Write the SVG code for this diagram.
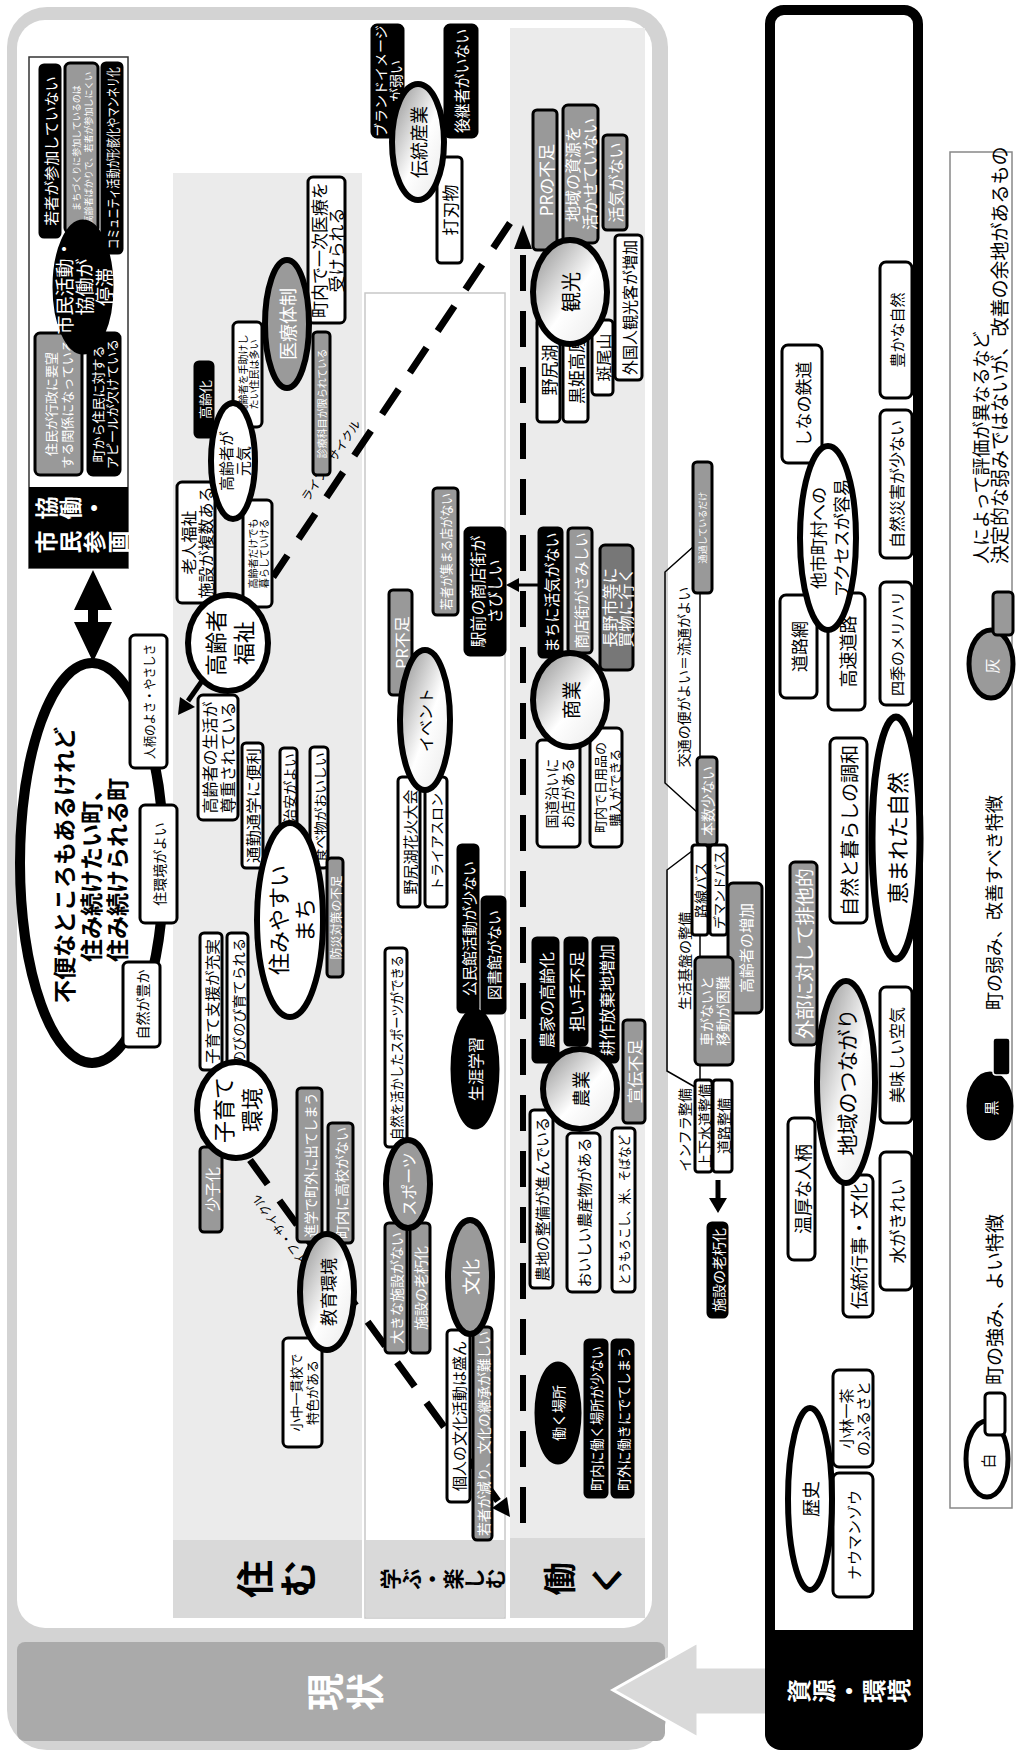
<svg xmlns="http://www.w3.org/2000/svg" width="1020" height="1751" viewBox="0 0 1020 1751">
<defs>
<linearGradient id="gr" x1="1" y1="0" x2="0" y2="1">
<stop offset="0" stop-color="#8a8a8a"/><stop offset="0.55" stop-color="#fff"/><stop offset="1" stop-color="#e8e8e8"/>
</linearGradient>
<style>
text{font-family:"Noto Sans CJK JP","Noto Sans",sans-serif;text-anchor:middle;dominant-baseline:central;fill:#000}
.w{fill:#fff;stroke:#000;stroke-width:3}
.g{fill:#999;stroke:#000;stroke-width:3}
.gd{fill:#777;stroke:#000;stroke-width:3}
.k{fill:#000;stroke:#000;stroke-width:3}
.tw{fill:#fff}
.b{font-weight:bold}
.ew{fill:#fff;stroke:#000;stroke-width:6}
.eg{fill:url(#gr);stroke:#000;stroke-width:6}
.eh{fill:#9a9a9a;stroke:#000;stroke-width:6}
.ek{fill:#000;stroke:#000;stroke-width:3}
.dash{fill:none;stroke:#000;stroke-width:7;stroke-dasharray:30 20}
.thin{fill:none;stroke:#000;stroke-width:1.5}
.st{text-anchor:start}
</style>
</defs>
<rect width="1020" height="1751" fill="#fff"/>
<g transform="translate(0,1751) rotate(-90)">
<g id="frame">
<rect x="1" y="7" width="1743" height="661" rx="40" fill="#d3d3d3"/>
<rect x="123" y="17" width="1608" height="635" rx="28" fill="#fff"/>
<rect x="10" y="17" width="99" height="648" rx="8" fill="#aaa"/>
<text x="59" y="322" font-size="38" class="b tw">現</text>
<text x="59" y="362" font-size="38" class="b tw">状</text>
</g>
<g id="arrow-main"><polygon points="61,613 109,698 84,698 84,768 36,768 36,698 13,698" fill="#d9d9d9" stroke="#fff" stroke-width="3"/></g>
<g id="panel-sumu">
<rect x="133" y="173" width="1445" height="189" fill="#ebebeb"/>
<rect x="133" y="173" width="78" height="189" fill="#d9d9d9"/>
<text x="172" y="252" font-size="38" class="b">住</text>
<text x="172" y="295" font-size="38" class="b">む</text>
</g>
<g id="panel-manabu">
<rect x="133" y="365" width="1325" height="140" fill="#fff" stroke="#c8c8c8" stroke-width="1.5"/>
<rect x="134" y="366" width="77" height="138" fill="#d9d9d9"/>
<text x="172" y="389" font-size="21" class="b">学</text>
<text x="172" y="410" font-size="21" class="b">ぶ</text>
<text x="172" y="431" font-size="21" class="b">・</text>
<text x="172" y="452" font-size="21" class="b">楽</text>
<text x="172" y="473" font-size="21" class="b">し</text>
<text x="172" y="494" font-size="21" class="b">む</text>
</g>
<g id="panel-hataraku">
<rect x="133" y="510" width="1590" height="135" fill="#ebebeb"/>
<rect x="133" y="510" width="80" height="135" fill="#d9d9d9"/>
<text x="172" y="558" font-size="33" class="b">働</text>
<text x="172" y="605" font-size="33" class="b">く</text>
</g>
<g id="panel-shigen">
<rect x="6" y="770" width="1735" height="148" rx="14" fill="#fff" stroke="#000" stroke-width="10"/>
<rect x="1" y="765" width="120" height="158" rx="16" fill="#000"/>
<rect x="60" y="765" width="61" height="158" fill="#000"/>
<text x="60" y="797" font-size="24" class="b tw">資</text>
<text x="60" y="822" font-size="24" class="b tw">源</text>
<text x="60" y="847" font-size="24" class="b tw">・</text>
<text x="60" y="872" font-size="24" class="b tw">環</text>
<text x="60" y="897" font-size="24" class="b tw">境</text>
</g>
<g id="legend">
<rect x="243" y="950" width="1356" height="62" fill="#fff" stroke="#888" stroke-width="1.5"/>
<ellipse cx="292" cy="987" rx="38" ry="21" fill="#fff" stroke="#000" stroke-width="5"/>
<rect x="316" y="985" width="42" height="20" rx="4" class="w"/>
<text x="290" y="987" font-size="15">白</text>
<text x="366" y="993" font-size="19" class="st">町の強み、よい特徴</text>
<ellipse cx="645" cy="990" rx="33" ry="22" class="ek"/>
<rect x="676" y="993" width="37" height="17" rx="3" fill="#000" stroke="#fff" stroke-width="1.5"/>
<text x="643" y="990" font-size="15" class="tw">黒</text>
<text x="741" y="993" font-size="18" class="st">町の弱み、改善すべき特徴</text>
<ellipse cx="1087" cy="991" rx="34" ry="22" fill="#9a9a9a" stroke="#000" stroke-width="5"/>
<rect x="1116" y="993" width="43" height="20" rx="4" fill="#999" stroke="#000" stroke-width="3"/>
<text x="1085" y="991" font-size="15" class="tw">灰</text>
<text x="1187" y="980" font-size="18" class="st">人によって評価が異なるなど</text>
<text x="1187" y="998" font-size="19" class="st">決定的な弱みではないが、改善の余地があるもの</text>
</g>
<g id="connectors">
<polyline class="dash" points="1528,510 1174,273"/>
<polyline class="dash" points="591,250 250,498"/>
<polygon points="234,510 254,507 243,492"/>
<polyline class="dash" style="stroke-width:6;stroke-dasharray:36 20" points="228,523 1505,523"/>
<polygon points="1526,523 1502,514 1502,532"/>
<text x="1291" y="330" font-size="12" transform="rotate(34 1291 330)">ライフ・サイクル</text>
<text x="516" y="282" font-size="12" transform="rotate(-36 516 282)">ライフ・サイクル</text>
<polygon points="1089,93 1129,74 1129,88 1141,88 1141,74 1181,93 1141,112 1141,98 1129,98 1129,112"/>
<line x1="1070" y1="202" x2="1050" y2="188" stroke="#000" stroke-width="5"/>
<polygon points="1036,178 1054,180 1044,195"/>
<line x1="1166" y1="540" x2="1166" y2="516" stroke="#000" stroke-width="3"/>
<polygon points="1166,506 1159,519 1173,519"/>
<line x1="571" y1="718" x2="552" y2="718" stroke="#000" stroke-width="5"/>
<polygon points="538,718 553,709 553,727"/>
<line x1="994" y1="700" x2="1158" y2="700" class="thin"/>
<line x1="794" y1="700" x2="816" y2="700" class="thin"/>
<line x1="671" y1="700" x2="686" y2="700" class="thin"/>
<polyline class="thin" points="1204,693 1179,665 968,665 939,697"/>
<polyline class="thin" points="900,692 881,667 680,667 664,695"/>
</g>
<g id="infra-labels">
<text x="1074" y="683" font-size="14">交通の便がよい＝流通がよい</text>
<text x="790" y="684" font-size="14">生活基盤の整備</text>
<text x="621" y="684" font-size="14">インフラ整備</text>
</g>
<g id="n-kyodo">
<rect x="1183" y="29" width="511" height="99" fill="#fff" stroke="#333" stroke-width="1.5"/>
<rect x="1183" y="29" width="81" height="99" fill="#000"/>
<text x="1243" y="45" font-size="23" class="b tw">協</text>
<text x="1243" y="69" font-size="23" class="b tw">働</text>
<text x="1243" y="93" font-size="23" class="b tw">・</text>
<text x="1209" y="45" font-size="23" class="b tw">市</text>
<text x="1209" y="69" font-size="23" class="b tw">民</text>
<text x="1209" y="93" font-size="23" class="b tw">参</text>
<text x="1209" y="117" font-size="23" class="b tw">画</text>
</g>
<g id="n01"><rect class="k" x="1514" y="40" width="172" height="20" rx="4"/><text x="1600" y="50" font-size="15" class="tw">若者が参加していない</text></g>
<g id="n02"><rect class="g" x="1518" y="65" width="170" height="33" rx="5"/><text x="1603" y="76" font-size="9" class="tw">まちづくりに参加しているのは</text><text x="1603" y="88" font-size="9" class="tw">高齢者ばかりで、若者が参加しにくい</text></g>
<g id="n03"><rect class="k" x="1498" y="102" width="190" height="20" rx="4"/><text x="1593" y="112" font-size="14" class="tw" textLength="182" lengthAdjust="spacingAndGlyphs">コミュニティ活動が形骸化やマンネリ化</text></g>
<g id="n04"><rect class="g" x="1276" y="35" width="142" height="47" rx="5"/><text x="1347" y="50" font-size="13" class="tw">住民が行政に要望</text><text x="1347" y="66" font-size="13" class="tw">する関係になっている</text></g>
<g id="n05"><rect class="k" x="1276" y="88" width="142" height="32" rx="5"/><text x="1347" y="97" font-size="13" class="tw">町から住民に対する</text><text x="1347" y="111" font-size="13" class="tw">アピールが欠けている</text></g>
<g id="e-shimin"><ellipse class="ek" cx="1464" cy="83" rx="66" ry="29"/><text x="1464" y="63" font-size="19" class="tw">市民活動・</text><text x="1464" y="83" font-size="19" class="tw">協働が</text><text x="1464" y="103" font-size="19" class="tw">停滞</text></g>
<g id="e-title"><ellipse cx="888" cy="92" rx="200" ry="72" fill="#fff" stroke="#000" stroke-width="10"/>
<text x="886" y="63" font-size="23" class="b">不便なところもあるけれど</text>
<text x="881" y="90" font-size="23" class="b">住み続けたい町、</text>
<text x="881" y="116" font-size="23" class="b">住み続けられる町</text></g>
<g id="n06"><rect class="w" x="983" y="130" width="133" height="37" rx="5"/><text x="1049.5" y="148.5" font-size="13" textLength="115" lengthAdjust="spacingAndGlyphs">人柄のよさ・やさしさ</text></g>
<g id="n07"><rect class="w" x="828" y="140" width="118" height="37" rx="5"/><text x="887" y="158.5" font-size="14">住環境がよい</text></g>
<g id="n08"><rect class="w" x="704" y="123" width="85" height="37" rx="5"/><text x="746.5" y="141.5" font-size="14">自然が豊か</text></g>
<g id="n09"><rect class="w" x="1148" y="177" width="121" height="38" rx="5"/><text x="1208.5" y="188" font-size="16">老人福祉</text><text x="1208.5" y="205" font-size="16">施設が複数ある</text></g>
<g id="n10"><rect class="w" x="1144" y="243" width="107" height="29" rx="5"/><text x="1197.5" y="252" font-size="10">高齢者だけでも</text><text x="1197.5" y="263" font-size="10">暮らしていける</text></g>
<g id="n11"><rect class="w" x="931" y="198" width="125" height="40" rx="5"/><text x="993.5" y="209" font-size="16">高齢者の生活が</text><text x="993.5" y="227" font-size="16">尊重されている</text></g>
<g id="n12"><rect class="w" x="883" y="242" width="125" height="21" rx="4"/><text x="945.5" y="252.5" font-size="15" textLength="115" lengthAdjust="spacingAndGlyphs">通勤通学に便利</text></g>
<g id="n13"><rect class="w" x="923" y="280" width="80" height="17" rx="4"/><text x="963" y="288.5" font-size="14">治安がよい</text></g>
<g id="n14"><rect class="w" x="883" y="310" width="121" height="18" rx="4"/><text x="943.5" y="319" font-size="13" textLength="110" lengthAdjust="spacingAndGlyphs">食べ物がおいしい</text></g>
<g id="n15"><rect class="k" x="1314" y="195" width="75" height="18" rx="4"/><text x="1351.5" y="204" font-size="13" class="tw">高齢化</text></g>
<g id="n16"><rect class="w" x="1324" y="233" width="105" height="29" rx="5"/><text x="1376.5" y="242" font-size="10">高齢者を手助けし</text><text x="1376.5" y="253" font-size="10">たい住民は多い</text></g>
<g id="n17"><rect class="w" x="1428" y="308" width="146" height="37" rx="5"/><text x="1501" y="318" font-size="17">町内で一次医療を</text><text x="1501" y="335" font-size="17">受けられる</text></g>
<g id="n18"><rect class="g" x="1276" y="313" width="143" height="17" rx="4"/><text x="1347.5" y="321.5" font-size="10" class="tw">診療科目が限られている</text></g>
<g id="e-fukushi"><ellipse class="ew" cx="1108" cy="228" rx="48" ry="40"/><text x="1108" y="214" font-size="22">高齢者</text><text x="1108" y="242" font-size="22">福祉</text></g>
<g id="e-genki"><ellipse class="ew" cx="1290" cy="233" rx="58" ry="22"/><text x="1290" y="225" font-size="15">高齢者が</text><text x="1290" y="242" font-size="15">元気</text></g>
<g id="e-iryo"><ellipse class="eh" cx="1427" cy="287" rx="64" ry="22"/><text x="1427" y="287" font-size="18" class="tw">医療体制</text></g>
<g id="n19"><rect class="g" x="774" y="327" width="119" height="16" rx="4"/><text x="833.5" y="335" font-size="12" class="tw">防災対策の不足</text></g>
<g id="e-sumiyasui"><ellipse class="ew" cx="831" cy="290" rx="97" ry="33"/><text x="831" y="277" font-size="22">住みやすい</text><text x="831" y="303" font-size="22">まち</text></g>
<g id="n20"><rect class="w" x="681" y="200" width="137" height="22" rx="4"/><text x="749.5" y="211" font-size="15" textLength="125" lengthAdjust="spacingAndGlyphs">子育て支援が充実</text></g>
<g id="n21"><rect class="w" x="681" y="227" width="137" height="21" rx="4"/><text x="749.5" y="237.5" font-size="14" textLength="127" lengthAdjust="spacingAndGlyphs">のびのび育てられる</text></g>
<g id="n22"><rect class="g" x="519" y="200" width="85" height="22" rx="4"/><text x="561.5" y="211" font-size="15" class="tw">少子化</text></g>
<g id="n23"><rect class="g" x="509" y="297" width="154" height="25" rx="4"/><text x="586" y="309.5" font-size="14" class="tw" textLength="145" lengthAdjust="spacingAndGlyphs">進学で町外に出てしまう</text></g>
<g id="n24"><rect class="g" x="508" y="328" width="120" height="25" rx="4"/><text x="568" y="340.5" font-size="14" class="tw">町内に高校がない</text></g>
<g id="e-kosodate"><ellipse class="ew" cx="641" cy="236" rx="48" ry="39"/><text x="641" y="222" font-size="22">子育て</text><text x="641" y="250" font-size="22">環境</text></g>
<g id="n25"><rect class="w" x="304" y="283" width="109" height="39" rx="5"/><text x="358.5" y="295" font-size="13">小中一貫校で</text><text x="358.5" y="311" font-size="13">特色がある</text></g>
<g id="e-kyoiku"><ellipse class="eg" cx="459" cy="327" rx="58" ry="27"/><text x="459" y="327" font-size="17">教育環境</text></g>
<g id="n26"><rect class="w" x="604" y="385" width="199" height="22" rx="4"/><text x="703.5" y="396" font-size="14" textLength="185" lengthAdjust="spacingAndGlyphs">自然を活かしたスポーツができる</text></g>
<g id="n27"><rect class="g" x="398" y="385" width="130" height="22" rx="4"/><text x="463" y="396" font-size="14" class="tw">大きな施設がない</text></g>
<g id="n28"><rect class="g" x="398" y="410" width="130" height="20" rx="4"/><text x="463" y="420" font-size="14" class="tw">施設の老朽化</text></g>
<g id="e-sports"><ellipse class="eh" cx="567" cy="408" rx="44" ry="22"/><text x="567" y="408" font-size="16" class="tw">スポーツ</text></g>
<g id="n29"><rect class="w" x="249" y="447" width="172" height="23" rx="4"/><text x="335" y="458.5" font-size="15">個人の文化活動は盛ん</text></g>
<g id="n30"><rect class="g" x="211" y="473" width="213" height="19" rx="4"/><text x="317.5" y="482.5" font-size="14" class="tw" textLength="205" lengthAdjust="spacingAndGlyphs">若者が減り、文化の継承が難しい</text></g>
<g id="e-bunka"><ellipse class="eh" cx="474" cy="470" rx="57" ry="22"/><text x="474" y="470" font-size="18" class="tw">文化</text></g>
<g id="n31"><rect class="k" x="739" y="458" width="167" height="20" rx="4"/><text x="822.5" y="468" font-size="15" class="tw">公民館活動が少ない</text></g>
<g id="n32"><rect class="k" x="738" y="482" width="116" height="23" rx="4"/><text x="796" y="493.5" font-size="15" class="tw">図書館がない</text></g>
<g id="e-shogai"><ellipse class="ek" cx="682" cy="475" rx="59" ry="23"/><text x="682" y="475" font-size="16" class="tw">生涯学習</text></g>
<g id="n33"><rect class="g" x="1056" y="389" width="105" height="23" rx="4"/><text x="1108.5" y="400.5" font-size="16" class="tw">PR不足</text></g>
<g id="n34"><rect class="w" x="844" y="398" width="130" height="22" rx="4"/><text x="909" y="409" font-size="15">野尻湖花火大会</text></g>
<g id="n35"><rect class="w" x="844" y="425" width="130" height="22" rx="4"/><text x="909" y="436" font-size="14">トライアスロン</text></g>
<g id="e-event"><ellipse class="eg" cx="1031" cy="425" rx="70" ry="25"/><text x="1031" y="425" font-size="16">イベント</text></g>
<g id="n37"><rect class="g" x="1136" y="433" width="127" height="25" rx="4"/><text x="1199.5" y="445.5" font-size="13" class="tw" textLength="117" lengthAdjust="spacingAndGlyphs">若者が集まる店がない</text></g>
<g id="n36"><rect class="k" x="1096" y="465" width="127" height="40" rx="5"/><text x="1159.5" y="477" font-size="16" class="tw">駅前の商店街が</text><text x="1159.5" y="494" font-size="16" class="tw">さびしい</text></g>
<g id="n38"><rect class="g" x="1501" y="533" width="140" height="24" rx="4"/><text x="1571" y="545" font-size="17" class="tw">PRの不足</text></g>
<g id="n39"><rect class="g" x="1508" y="563" width="138" height="35" rx="5"/><text x="1577" y="572" font-size="16" class="tw">地域の資源を</text><text x="1577" y="589" font-size="16" class="tw">活かせていない</text></g>
<g id="n40"><rect class="g" x="1521" y="603" width="95" height="24" rx="4"/><text x="1568.5" y="615" font-size="16" class="tw">活気がない</text></g>
<g id="n41"><rect class="w" x="1329" y="537" width="104" height="23" rx="4"/><text x="1381" y="548.5" font-size="17">野尻湖</text></g>
<g id="n42"><rect class="w" x="1329" y="563" width="104" height="25" rx="4"/><text x="1381" y="575.5" font-size="17">黒姫高原</text></g>
<g id="n43"><rect class="w" x="1356" y="592" width="75" height="21" rx="4"/><text x="1393.5" y="602.5" font-size="16">斑尾山</text></g>
<g id="n44"><rect class="w" x="1371" y="615" width="145" height="27" rx="4"/><text x="1443.5" y="628.5" font-size="16" textLength="135" lengthAdjust="spacingAndGlyphs">外国人観光客が増加</text></g>
<g id="e-kanko"><ellipse class="eg" cx="1459" cy="570" rx="52" ry="37"/><text x="1459" y="570" font-size="20">観光</text></g>
<g id="n45"><rect class="k" x="1614" y="372" width="112" height="31" rx="5"/><text x="1670" y="380" font-size="14" class="tw">ブランドイメージ</text><text x="1670" y="395" font-size="14" class="tw">が弱い</text></g>
<g id="n46"><rect class="k" x="1614" y="445" width="112" height="32" rx="5"/><text x="1670" y="461" font-size="16" class="tw" textLength="104" lengthAdjust="spacingAndGlyphs">後継者がいない</text></g>
<g id="n47"><rect class="w" x="1488" y="437" width="106" height="25" rx="4"/><text x="1541" y="449.5" font-size="17">打刃物</text></g>
<g id="e-dento"><ellipse class="eg" cx="1609" cy="418" rx="58" ry="26"/><text x="1609" y="418" font-size="18">伝統産業</text></g>
<g id="n48"><rect class="k" x="1094" y="539" width="129" height="23" rx="4"/><text x="1158.5" y="550.5" font-size="16" class="tw" textLength="120" lengthAdjust="spacingAndGlyphs">まちに活気がない</text></g>
<g id="n49"><rect class="g" x="1098" y="568" width="125" height="24" rx="4"/><text x="1160.5" y="580" font-size="15" class="tw" textLength="116" lengthAdjust="spacingAndGlyphs">商店街がさみしい</text></g>
<g id="n50"><rect class="gd" x="1081" y="600" width="125" height="33" rx="5"/><text x="1143.5" y="609" font-size="16" class="tw">長野市等に</text><text x="1143.5" y="625" font-size="16" class="tw">買物に行く</text></g>
<g id="n51"><rect class="w" x="904" y="537" width="107" height="43" rx="5"/><text x="957.5" y="551" font-size="14">国道沿いに</text><text x="957.5" y="567" font-size="14">お店がある</text></g>
<g id="n52"><rect class="w" x="904" y="590" width="119" height="32" rx="5"/><text x="963.5" y="599" font-size="13">町内で日用品の</text><text x="963.5" y="614" font-size="13">購入ができる</text></g>
<g id="e-shogyo"><ellipse class="eg" cx="1051" cy="570" rx="47" ry="37"/><text x="1051" y="570" font-size="19">商業</text></g>
<g id="n53"><rect class="k" x="689" y="533" width="124" height="25" rx="4"/><text x="751" y="545.5" font-size="16" class="tw">農家の高齢化</text></g>
<g id="n54"><rect class="k" x="706" y="565" width="107" height="22" rx="4"/><text x="759.5" y="576" font-size="16" class="tw">担い手不足</text></g>
<g id="n55"><rect class="k" x="689" y="593" width="124" height="25" rx="4"/><text x="751" y="605.5" font-size="16" class="tw">耕作放棄地増加</text></g>
<g id="n56"><rect class="g" x="628" y="623" width="103" height="22" rx="4"/><text x="679.5" y="634" font-size="16" class="tw">宣伝不足</text></g>
<g id="n57"><rect class="w" x="463" y="530" width="178" height="23" rx="4"/><text x="552" y="541.5" font-size="15">農地の整備が進んでいる</text></g>
<g id="n58"><rect class="w" x="459" y="567" width="159" height="33" rx="5"/><text x="538.5" y="583.5" font-size="15">おいしい農産物がある</text></g>
<g id="n59"><rect class="w" x="459" y="612" width="164" height="23" rx="4"/><text x="541" y="623.5" font-size="13" textLength="150" lengthAdjust="spacingAndGlyphs">とうもろこし、米、そばなど</text></g>
<g id="e-nogyo"><ellipse class="eg" cx="662" cy="580" rx="40" ry="37"/><text x="662" y="580" font-size="18">農業</text></g>
<g id="n60"><rect class="k" x="254" y="585" width="157" height="22" rx="4"/><text x="332.5" y="596" font-size="14" class="tw" textLength="145" lengthAdjust="spacingAndGlyphs">町内に働く場所が少ない</text></g>
<g id="n61"><rect class="k" x="254" y="612" width="157" height="21" rx="4"/><text x="332.5" y="622.5" font-size="14" class="tw" textLength="145" lengthAdjust="spacingAndGlyphs">町外に働きにでてしまう</text></g>
<g id="e-basho"><ellipse class="ek" cx="338" cy="558" rx="50" ry="22"/><text x="338" y="558" font-size="14" class="tw">働く場所</text></g>
<g id="n62"><rect class="g" x="1158" y="693" width="131" height="19" rx="4"/><text x="1223.5" y="702.5" font-size="9" class="tw">通過しているだけ</text></g>
<g id="n63"><rect class="g" x="906" y="697" width="88" height="20" rx="4"/><text x="950" y="707" font-size="14" class="tw">本数少ない</text></g>
<g id="n64"><rect class="w" x="816" y="692" width="90" height="16" rx="3"/><text x="861" y="700" font-size="14">路線バス</text></g>
<g id="n65"><rect class="w" x="816" y="710" width="90" height="17" rx="3"/><text x="861" y="718.5" font-size="13">デマンドバス</text></g>
<g id="n66"><rect class="g" x="738" y="728" width="130" height="34" rx="5"/><text x="803" y="745" font-size="15" class="tw">高齢者の増加</text></g>
<g id="n67"><rect class="g" x="686" y="695" width="108" height="38" rx="5"/><text x="740" y="706" font-size="14" class="tw">車がないと</text><text x="740" y="722" font-size="14" class="tw">移動が困難</text></g>
<g id="n68"><rect class="w" x="579" y="695" width="92" height="17" rx="3"/><text x="625" y="703.5" font-size="14">上下水道整備</text></g>
<g id="n69"><rect class="w" x="579" y="713" width="92" height="19" rx="3"/><text x="625" y="722.5" font-size="14">道路整備</text></g>
<g id="n70"><rect class="k" x="434" y="708" width="94" height="19" rx="4"/><text x="481" y="717.5" font-size="14" class="tw">施設の老朽化</text></g>
<g id="n71"><rect class="w" x="1053" y="780" width="103" height="37" rx="6"/><text x="1104.5" y="798.5" font-size="17">道路網</text></g>
<g id="n72"><rect class="w" x="1041" y="828" width="117" height="37" rx="6"/><text x="1099.5" y="846.5" font-size="18">高速道路</text></g>
<g id="n73"><rect class="w" x="1046" y="880" width="123" height="32" rx="6"/><text x="1107.5" y="896" font-size="15">四季のメリハリ</text></g>
<g id="n74"><rect class="w" x="1193" y="880" width="148" height="32" rx="6"/><text x="1267" y="896" font-size="16">自然災害が少ない</text></g>
<g id="n75"><rect class="w" x="1353" y="880" width="136" height="32" rx="6"/><text x="1421" y="896" font-size="15">豊かな自然</text></g>
<g id="n76"><rect class="w" x="1288" y="782" width="118" height="40" rx="6"/><text x="1347" y="802" font-size="17">しなの鉄道</text></g>
<g id="e-access"><ellipse cx="1213" cy="828" rx="92" ry="28" fill="#fff" stroke="#000" stroke-width="6"/><text x="1213" y="817" font-size="17">他市町村への</text><text x="1213" y="840" font-size="17">アクセスが容易</text></g>
<g id="n77"><rect class="w" x="828" y="830" width="185" height="37" rx="6"/><text x="920.5" y="848.5" font-size="19">自然と暮らしの調和</text></g>
<g id="e-megumareta"><ellipse cx="913" cy="896" rx="121" ry="24" fill="#fff" stroke="#000" stroke-width="7"/><text x="913" y="896" font-size="22">恵まれた自然</text></g>
<g id="n78"><rect class="g" x="706" y="790" width="183" height="27" rx="5"/><text x="797.5" y="803.5" font-size="19" class="tw">外部に対して排他的</text></g>
<g id="n79"><rect class="w" x="628" y="880" width="136" height="32" rx="6"/><text x="696" y="896" font-size="16">美味しい空気</text></g>
<g id="n80"><rect class="w" x="461" y="880" width="138" height="32" rx="6"/><text x="530" y="896" font-size="17">水がきれい</text></g>
<g id="n81"><rect class="w" x="491" y="788" width="142" height="27" rx="6"/><text x="562" y="801.5" font-size="18">温厚な人柄</text></g>
<g id="n82"><rect class="w" x="434" y="843" width="142" height="30" rx="6"/><text x="505" y="858" font-size="18">伝統行事・文化</text></g>
<g id="e-chiiki"><ellipse cx="669" cy="846" rx="101" ry="29" fill="url(#gr)" stroke="#000" stroke-width="6"/><text x="669" y="846" font-size="21">地域のつながり</text></g>
<g id="n83"><rect class="w" x="284" y="833" width="97" height="40" rx="6"/><text x="332.5" y="845" font-size="15">小林一茶</text><text x="332.5" y="862" font-size="15">のふるさと</text></g>
<g id="n84"><rect class="w" x="154" y="833" width="124" height="40" rx="6"/><text x="216" y="853" font-size="15">ナウマンゾウ</text></g>
<g id="e-rekishi"><ellipse cx="252" cy="810" rx="91" ry="22" fill="#fff" stroke="#000" stroke-width="6"/><text x="252" y="810" font-size="18">歴史</text></g>
</g>
</svg>
